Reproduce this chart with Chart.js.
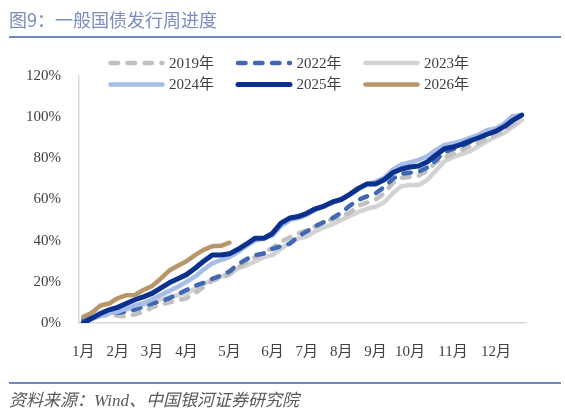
<!DOCTYPE html>
<html>
<head>
<meta charset="utf-8">
<script src="https://cdn.jsdelivr.net/npm/chart.js@4.4.1/dist/chart.umd.min.js"></script>
<style>
  html, body { margin: 0; padding: 0; background: #fff; }
  #wrap { position: relative; width: 565px; height: 416px; overflow: hidden; }
  #title { position: absolute; left: 9px; top: 7px; line-height: 24px; font-size: 18px;
           font-family: "Noto Sans CJK SC", sans-serif; color: #7b8cc0; white-space: nowrap; }
  .rule { position: absolute; left: 9px; width: 552px; height: 2px; background: #7088c0; }
  #source { position: absolute; left: 9px; top: 390px; line-height: 22px; font-size: 17px; font-style: italic;
            font-family: "Liberation Serif", "Noto Sans CJK SC", serif; color: #595959; white-space: nowrap; }
  canvas { position: absolute; left: 0; top: 0; }
</style>
</head>
<body>
<div id="wrap">
  <canvas id="weeklyChart" width="565" height="416"></canvas>
  <div id="title">图9：一般国债发行周进度</div>
  <div class="rule" style="top:36px"></div>
  <div class="rule" style="top:382px"></div>
  <div id="source">资料来源：Wind、中国银河证券研究院</div>
</div>
<script>
// month labels and the week they sit on
var monthNames = ['1月', '2月', '3月', '4月', '5月', '6月', '7月', '8月', '9月', '10月', '11月', '12月'];
var monthWeeks = [0, 4, 8, 12, 17, 22, 26, 30, 34, 38, 43, 48];
var weekCount = 52;

// cumulative issuance progress, %
var y2019 = [0.5, 2.5, 3.5, 3.9, 3.5, 3.2, 4.2, 5.5, 7.5, 9, 10, 11, 12, 14.5, 17.5, 20.5, 22, 23.5, 27, 29.5,
    32, 34, 36.5, 39.5, 41.5, 43.5, 45, 47, 49, 50.5, 52, 53.5, 57, 58.5, 60, 63, 68, 70.5, 71, 71.5,
    74, 78, 80.5, 82, 84, 86, 87.5, 89.5, 91.5, 93.5, 96.5, 99.5];
var y2022 = [1.5, 3, 4, 4.7, 5, 5.5, 6.5, 7.9, 9.5, 10.5, 12, 14, 16, 18, 19.5, 21.5, 23, 25, 28.5, 31,
    33, 33.8, 36, 37.3, 38.5, 42, 44.5, 47, 49, 51, 53.5, 57, 59.8, 61.5, 63, 66, 70, 72.5, 73, 73.5,
    75.5, 79, 83, 84.5, 86, 88, 90, 92, 93.5, 97, 100.5, 101];
var y2023 = [0.5, 2.5, 4, 4.7, 5.5, 6.5, 7.5, 8.7, 10, 11.5, 12.5, 13.5, 14.5, 16.5, 19, 21, 22.5, 24, 26.5, 28,
    30, 32, 33, 36, 39, 41, 42, 44.5, 46.5, 48, 50, 52, 54, 55.5, 56.5, 58.5, 63, 66.5, 67, 67,
    69.5, 74, 78.5, 80.5, 82, 83.5, 86, 88.5, 90.5, 92.5, 95.5, 98.5];
var y2024 = [0, 2, 3.5, 4.7, 5.5, 7, 8.5, 9.6, 11.5, 13.6, 15.5, 17.6, 20, 22.5, 26, 29, 30.6, 32, 34.5, 37.5,
    40, 41, 42.5, 47, 50, 51, 52.5, 55, 56.5, 58.5, 60, 62.5, 65, 67.5, 68.7, 70.5, 74.5, 77, 78, 79.2,
    81, 84, 86.5, 87.3, 88.5, 90, 91.5, 93.8, 94.5, 97, 100.5, 101];
var y2025 = [0, 2.3, 4.6, 6.4, 7.6, 9.5, 11.3, 12.7, 14.4, 17, 19.5, 21.5, 23.5, 26.6, 30, 33, 33, 33.6, 35.8, 38.4,
    41.2, 41.2, 43.5, 48.5, 51, 51.7, 53.3, 55.5, 56.8, 58.8, 60, 62.5, 65.4, 67.5, 67.5, 69.6, 73, 74.8, 75.8, 76.3,
    78.2, 81.5, 84.7, 85.5, 86.8, 88.5, 90, 91.7, 93.2, 95.5, 98.6, 101];
var y2026 = [3, 5, 8.5, 9.5, 12, 13.5, 13.6, 16, 18, 21.5, 25.5, 27.8, 30, 33, 35.5, 37.3, 37.5, 39];

var yTicks = [0, 20, 40, 60, 80, 100, 120];

// one category per week, month name on its first week
var weekLabels = [];
for (var i = 0; i < weekCount; i++) {
    var m = monthWeeks.indexOf(i);
    weekLabels.push(m >= 0 ? monthNames[m] : '');
}

var tickFont = { family: '"Liberation Serif", "Noto Sans CJK SC", serif', size: 15 };

// legend in two rows of three, drawn over the top of the plot
var lineLegend = {
    id: 'lineLegend',
    afterDraw: function (chart) {
        var ctx = chart.ctx;
        var cols = [110.5, 238, 365.5];
        var rows = [63, 84.5];
        chart.data.datasets.forEach(function (ds, i) {
            var x = cols[i % 3], y = rows[Math.floor(i / 3)];
            ctx.save();
            ctx.strokeStyle = ds.borderColor;
            ctx.lineWidth = ds.borderWidth;
            ctx.lineCap = 'round';
            ctx.setLineDash(ds.borderDash || []);
            ctx.beginPath();
            ctx.moveTo(x, y);
            ctx.lineTo(x + 52, y);
            ctx.stroke();
            ctx.setLineDash([]);
            ctx.fillStyle = '#404040';
            ctx.font = '15px "Liberation Serif", "Noto Sans CJK SC", serif';
            ctx.textBaseline = 'middle';
            ctx.fillText(ds.label, x + 58.5, y + 1);
            ctx.restore();
        });
    }
};

function series(label, data, color, width, dash, order) {
    return {
        label: label,
        data: data,
        borderColor: color,
        backgroundColor: color,
        borderWidth: width,
        borderDash: dash,
        borderCapStyle: 'round',
        borderJoinStyle: 'round',
        pointRadius: 0,
        tension: 0,
        fill: false,
        order: order
    };
}

var ctx = document.getElementById('weeklyChart').getContext('2d');
new Chart(ctx, {
    type: 'line',
    data: {
        labels: weekLabels,
        datasets: [
            series('2019年', y2019, '#c0c0c0', 4.5, [7.5, 9.5], 5),
            series('2022年', y2022, '#4169b3', 4.5, [7.5, 9.5], 4),
            series('2023年', y2023, '#d3d3d3', 4.5, [], 6),
            series('2024年', y2024, '#a7bce6', 4.5, [], 3),
            series('2025年', y2025, '#0b318f', 5, [], 2),
            series('2026年', y2026, '#b8966a', 4.5, [], 1)
        ]
    },
    options: {
        responsive: false,
        animation: false,
        layout: { padding: { left: 24, right: 39, top: 76, bottom: 43 } },
        plugins: {
            legend: { display: false },
            tooltip: { enabled: false }
        },
        scales: {
            x: {
                type: 'category',
                offset: true,
                grid: { display: false, drawTicks: false },
                border: { display: true, color: '#d9d9d9', width: 1.5 },
                ticks: { autoSkip: false, maxRotation: 0, padding: 20, color: '#404040', font: tickFont },
                afterFit: function (scale) { scale.height = 50; }
            },
            y: {
                min: 0,
                max: 120,
                afterBuildTicks: function (scale) {
                    scale.ticks = yTicks.map(function (v) { return { value: v }; });
                },
                grid: { display: false, drawTicks: false },
                border: { display: true, color: '#d9d9d9', width: 1.5 },
                ticks: {
                    padding: 18,
                    color: '#404040',
                    font: tickFont,
                    callback: function (v) { return v + '%'; }
                },
                afterFit: function (scale) { scale.width = 55; }
            }
        }
    },
    plugins: [lineLegend]
});
</script>
</body>
</html>
